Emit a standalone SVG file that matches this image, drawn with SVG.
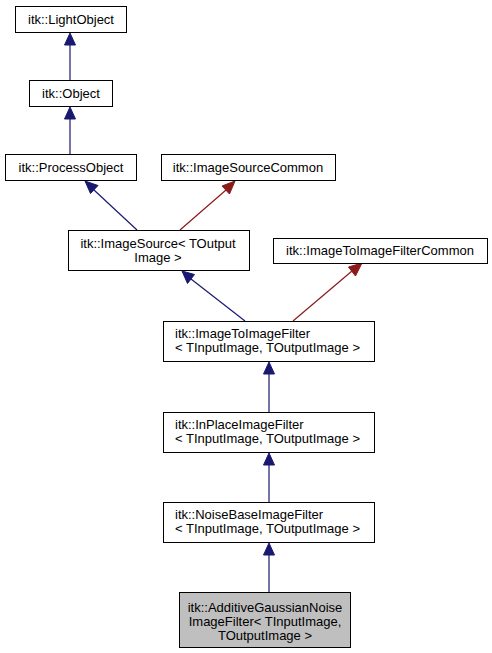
<svg xmlns="http://www.w3.org/2000/svg" width="492" height="653" viewBox="0 0 492 653">
<style>
.n{fill:#fff;stroke:#000;stroke-width:1}
.g{fill:#bfbfbf;stroke:#000;stroke-width:1}
text{font-family:"Liberation Sans",Arial,sans-serif;font-size:13px;fill:#000}
.c{text-anchor:middle}
.b{stroke:#191970;fill:none;stroke-width:1.2}
.r{stroke:#8b1a1a;fill:none;stroke-width:1.2}
.bh{fill:#191970;stroke:#191970}
.rh{fill:#8b1a1a;stroke:#8b1a1a}
</style>
<rect width="492" height="653" fill="#fff"/>
<g id="connectors">
<line class="b" x1="70" y1="80" x2="70" y2="44"/>
<polygon class="bh" points="70,33 64.5,45 75.5,45"/>
<line class="b" x1="70" y1="154" x2="70" y2="118"/>
<polygon class="bh" points="70,107 64.5,119 75.5,119"/>
<line class="b" x1="137" y1="230" x2="94" y2="190"/>
<polygon class="bh" points="85,181 90.5,193.5 98,185.5"/>
<line class="r" x1="180" y1="230" x2="226" y2="190"/>
<polygon class="rh" points="235,181 222,186 229.5,194"/>
<line class="b" x1="245" y1="321" x2="191" y2="279"/>
<polygon class="bh" points="182,271 187.5,283.5 194.5,274.5"/>
<line class="r" x1="293" y1="321" x2="352" y2="271"/>
<polygon class="rh" points="362,263 348.5,267 355.5,276"/>
<line class="b" x1="269" y1="412" x2="269" y2="373"/>
<polygon class="bh" points="269,362 263.5,374 274.5,374"/>
<line class="b" x1="269" y1="502" x2="269" y2="464"/>
<polygon class="bh" points="269,453 263.5,465 274.5,465"/>
<line class="b" x1="269" y1="592" x2="269" y2="554"/>
<polygon class="bh" points="269,543 263.5,555 274.5,555"/>
</g>
<g id="lightobject">
<rect class="n" x="15.5" y="6.5" width="111" height="26"/>
<text class="c" x="71" y="24">itk::LightObject</text>
</g>
<g id="object">
<rect class="n" x="29.5" y="80.5" width="83" height="26"/>
<text class="c" x="71" y="98">itk::Object</text>
</g>
<g id="processobject">
<rect class="n" x="5.5" y="154.5" width="131" height="26"/>
<text class="c" x="71" y="172">itk::ProcessObject</text>
</g>
<g id="imagesourcecommon">
<rect class="n" x="161.5" y="154.5" width="174" height="26"/>
<text class="c" x="248" y="172">itk::ImageSourceCommon</text>
</g>
<g id="imagesource">
<rect class="n" x="68.5" y="230.5" width="181" height="40"/>
<text class="c" x="158" y="248">itk::ImageSource&lt; TOutput</text>
<text class="c" x="158" y="262">Image &gt;</text>
</g>
<g id="imagetoimagefiltercommon">
<rect class="n" x="273.5" y="238.5" width="214" height="25"/>
<text class="c" x="380" y="255">itk::ImageToImageFilterCommon</text>
</g>
<g id="imagetoimagefilter">
<rect class="n" x="163.5" y="321.5" width="211" height="40"/>
<text x="175" y="338">itk::ImageToImageFilter</text>
<text x="175" y="352">&lt; TInputImage, TOutputImage &gt;</text>
</g>
<g id="inplaceimagefilter">
<rect class="n" x="163.5" y="412.5" width="211" height="40"/>
<text x="175" y="429">itk::InPlaceImageFilter</text>
<text x="175" y="443">&lt; TInputImage, TOutputImage &gt;</text>
</g>
<g id="noisebaseimagefilter">
<rect class="n" x="163.5" y="502.5" width="211" height="40"/>
<text x="175" y="519">itk::NoiseBaseImageFilter</text>
<text x="175" y="533">&lt; TInputImage, TOutputImage &gt;</text>
</g>
<g id="additivegaussiannoiseimagefilter">
<rect class="g" x="179.5" y="592.5" width="171" height="55"/>
<text class="c" x="265" y="612">itk::AdditiveGaussianNoise</text>
<text class="c" x="265" y="626">ImageFilter&lt; TInputImage,</text>
<text class="c" x="265" y="640">TOutputImage &gt;</text>
</g>
</svg>
